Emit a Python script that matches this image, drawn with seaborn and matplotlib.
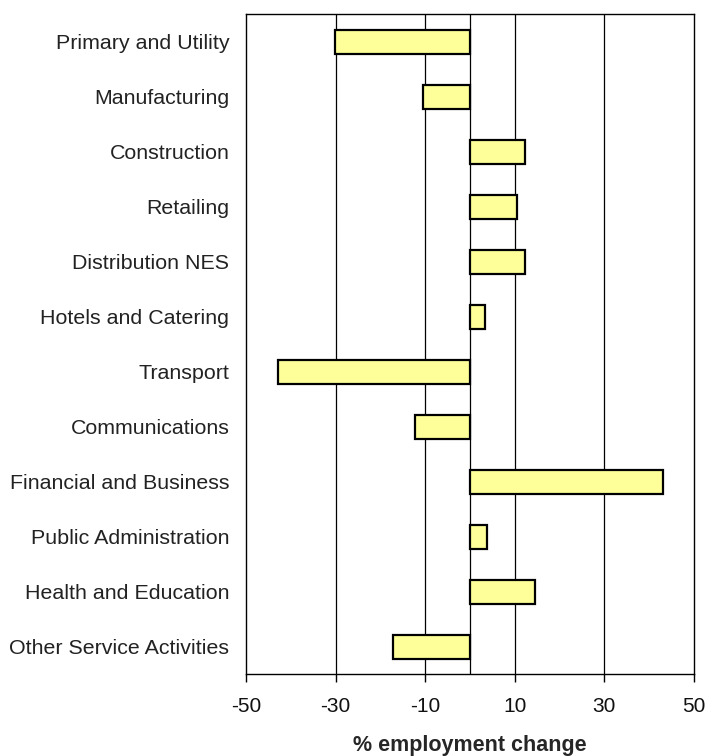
import matplotlib
matplotlib.use("Agg")
import matplotlib.pyplot as plt
import seaborn as sns
import pandas as pd

categories = ["Primary and Utility", "Manufacturing", "Construction", "Retailing",
              "Distribution NES", "Hotels and Catering", "Transport", "Communications",
              "Financial and Business", "Public Administration", "Health and Education",
              "Other Service Activities"]
values = [-30.1, -10.5, 12.3, 10.6, 12.3, 3.4, -42.9, -12.2, 43.0, 3.9, 14.6, -17.1]
xticks = [-50, -30, -10, 10, 30, 50]

sns.set_theme(style="white")
plt.rcParams['font.family'] = ['Liberation Sans', 'DejaVu Sans']

df = pd.DataFrame({"category": categories, "value": values})

fig = plt.figure(figsize=(7.17, 7.56), dpi=100)
ax = fig.add_axes([0.343, 0.108, 0.625, 0.873])

for x in [-30, -10, 10, 30]:
    ax.axvline(x, color="#000000", lw=0.9, zorder=0)
ax.axvline(0, color="#000000", lw=0.9, zorder=0)

sns.barplot(data=df, x="value", y="category", orient="h", color="#FFFF99",
            edgecolor="black", linewidth=1.6, width=0.44, saturation=1, ax=ax, zorder=2)

ax.set_xlim(-50, 50)
ax.set_ylim(11.5, -0.5)
ax.set_xticks(xticks)
ax.set_xticklabels([str(v) for v in xticks], fontsize=15)
ax.tick_params(axis="x", direction="out", length=6, width=1, color="black", bottom=True, pad=10)
ax.tick_params(axis="y", length=0, pad=12, labelsize=15.4)
for lbl in ax.get_yticklabels():
    lbl.set_color("#222222")
for lbl in ax.get_xticklabels():
    lbl.set_color("#111111")
ax.set_ylabel("")
ax.set_xlabel("% employment change", fontsize=15.5, fontweight="bold", labelpad=14)
for s in ax.spines.values():
    s.set_visible(True)
    s.set_color("black")
    s.set_linewidth(1.0)

fig.savefig("out.png", dpi=100)
